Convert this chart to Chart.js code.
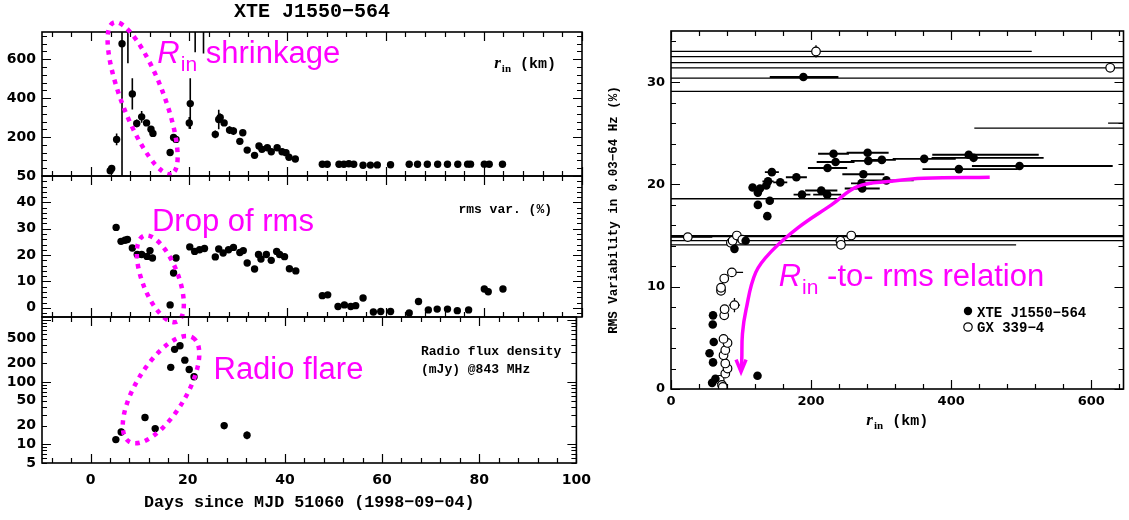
<!DOCTYPE html>
<html lang="en">
<head>
<meta charset="UTF-8">
<title>XTE J1550-564: inner radius, rms variability and radio flux</title>
<script src="https://cdn.jsdelivr.net/npm/chart.js@4.4.1/dist/chart.umd.min.js"></script>
<style>
  body { margin: 0; background: #fff; }
  #fig { position: relative; width: 1129px; height: 520px; overflow: hidden; }
  #fig canvas { position: absolute; top: 0; }
</style>
</head>
<body>
<div id="fig">
  <canvas id="relChart" width="569" height="520" style="left:560px"></canvas>
  <canvas id="rinChart" width="600" height="520" style="left:0"></canvas>
  <canvas id="rmsChart" width="600" height="520" style="left:0"></canvas>
  <canvas id="radioChart" width="600" height="520" style="left:0"></canvas>
</div>
<script>
// ---------- left: light curves vs days since MJD 51060 ----------
const rinDays = [3.9, 4.2, 5.2, 6.3, 7.5, 8.4, 9.3, 10.3, 11.3, 12.2, 12.6, 16.1, 16.8, 17.3, 20.0,
  20.2, 21.2, 22.9, 25.3, 26.0, 26.3, 27.1, 28.2, 29.0, 30.3, 30.9, 31.8, 33.3, 34.2, 34.8, 35.9,
  36.7, 37.9, 38.9, 39.7, 40.3, 41.6, 47.1, 48.1, 50.5, 51.5, 52.5, 53.5, 55.4, 56.9, 58.3, 61.0,
  64.8, 66.5, 68.5, 70.6, 72.6, 74.7, 76.7, 77.3, 80.1, 81.1, 83.8];
const rinKm = [27, 39, 188, 680, 900, 422, 270, 304, 273, 240, 219, 121, 198, 188, 273,
  372, 900, 900, 214, 290, 301, 273, 236, 231, 178, 222, 133, 106, 154, 137, 145,
  125, 145, 125, 120, 96, 87, 60, 60, 60, 60, 63, 60, 55, 56, 57, 58,
  60, 60, 60, 60, 60, 60, 61, 61, 61, 60, 60];
const rinErr = [8, 8, 30, 720, 320, 80, 20, 30, 15, 15, 12, 10, 15, 12, 30,
  130, 264, 270, 20, 50, 20, 15, 20, 20, 12, 15, 8, 8, 10, 8, 8,
  8, 8, 8, 8, 6, 6, 4, 4, 4, 4, 4, 4, 4, 4, 4, 4,
  4, 4, 4, 4, 4, 4, 4, 4, 4, 4, 4];

const rmsDays = [5.1, 6.1, 6.9, 7.4, 8.4, 9.4, 10.3, 11.4, 12.0, 12.5, 16.1, 16.8, 17.3, 20.1, 21.1,
  22.1, 23.1, 25.3, 26.0, 26.9, 28.0, 29.0, 30.3, 31.0, 31.8, 33.3, 34.1, 34.6, 35.7, 36.7, 37.8,
  38.4, 39.4, 40.4, 41.7, 47.1, 48.2, 50.3, 51.6, 52.9, 53.9, 55.4, 57.5, 59.0, 61.0, 64.8, 66.7,
  68.7, 70.5, 72.6, 74.6, 76.9, 80.1, 80.9, 83.9];
const rmsPct = [30.5, 25.2, 25.6, 25.9, 22.7, 20.2, 20.2, 19.5, 21.7, 18.9, 1.1, 13.2, 18.9, 23.1, 21.4,
  22.0, 22.5, 19.3, 22.3, 20.8, 22.0, 22.9, 21.0, 21.7, 17.0, 14.7, 20.2, 18.5, 20.2, 18.0, 21.4,
  20.2, 19.4, 14.8, 14.0, 4.6, 4.9, 0.5, 1.1, 0.5, 0.8, 3.7, -1.6, -1.4, -1.4, -2.0, 2.4,
  -0.8, -0.5, -0.5, -1.1, -0.8, 7.1, 6.1, 7.1];

const radioDays = [5.2, 6.3, 11.2, 13.3, 16.5, 17.3, 18.4, 19.4, 20.3, 21.3, 27.5, 32.2];
const radioMjy = [11.9, 15.8, 27, 17.9, 173, 337, 385, 226, 160, 122, 20, 14];
const radioErr = [0, 2, 0, 0, 0, 0, 0, 0, 0, 0, 2.5, 2];

// ---------- right: rms vs r_in ----------
const xteRin = [189, 116.5, 124, 127, 136, 138.5, 144, 141, 124, 137.5,
  156, 179, 187, 214.5, 223, 223.5, 232, 235, 280.7, 281.7,
  301, 361.5, 425, 432, 497.6, 411, 274.6, 272, 307.5, 273,
  90.6, 106.6, 60, 59.6, 61, 55, 60, 58.7, 63.4, 123.5];
const xteRms = [30.5, 19.7, 19.2, 19.6, 19.9, 20.3, 21.2, 18.4, 18.0, 16.9,
  20.2, 20.7, 19.0, 19.4, 19.0, 21.6, 23.0, 22.2, 23.1, 22.3,
  22.4, 22.5, 22.9, 22.6, 21.8, 21.5, 21.0, 20.1, 20.4, 19.6,
  13.7, 14.5, 7.2, 6.3, 4.6, 3.5, 2.6, 0.6, 1.0, 1.3];
const xteErrLo = [48, 0, 0, 0, 5, 8, 10, 0, 0, 0, 10, 15, 12, 23, 20, 28, 22, 27, 30, 25,
  20, 45, 52, 60, 68, 52, 30, 15, 39, 25, 0, 0, 0, 0, 0, 0, 0, 0, 0, 0];
const xteErrHi = [50, 0, 0, 0, 5, 8, 10, 0, 0, 0, 10, 15, 12, 23, 20, 28, 22, 27, 30, 25,
  20, 45, 100, 100, 133, 84, 30, 15, 39, 25, 0, 0, 0, 0, 0, 0, 0, 0, 0, 0];

const gxRin = [69.5, 72.8, 74, 77.5, 80.7, 77.5, 75, 77.5, 80.7, 75, 76, 76.5, 90.6, 71.4,
  71.4, 76, 86.9, 85.5, 88, 94, 101.8, 241.8, 242.7, 257.3, 24, 207, 627];
const gxRms = [0.9, 0.4, 0.2, 1.5, 2.0, 2.5, 3.3, 3.8, 4.5, 4.9, 7.2, 7.8, 8.2, 9.6,
  9.9, 10.8, 11.4, 14.3, 14.5, 15.0, 14.6, 14.5, 14.1, 15.0, 14.85, 33.0, 31.4];
const gxErrLo = [0, 0, 0, 0, 0, 0, 0, 0, 0, 0, 0, 0, 8, 0, 0, 0, 0, 0, 0, 0, 0, 0, 300, 400, 35, 300, 700];
const gxErrHi = [0, 0, 0, 0, 0, 0, 0, 0, 0, 0, 0, 0, 8, 0, 0, 0, 16, 0, 0, 0, 0, 0, 250, 500, 35, 308, 700];
const gxErrRms = [0, 0, 0, 0, 0, 0, 0, 0, 0, 0, 0, 0, 0.7, 0, 0, 0, 0, 0, 0, 0, 0, 0, 0, 0.4, 0, 0.6, 0.4];

// unconstrained fits: centre beyond the plotted range, only the error bar shows
const offRin = [900, 900, 900, 900, 900, 900, 900, 900, 900];
const offRms = [32.5, 31.9, 30.4, 29.1, 26.0, 25.5, 18.6, 14.9, 14.5];
const offErrLo = [1000, 1000, 1000, 1000, 276, 467, 1000, 1000, 1000];

// magenta trend arrow (r_in, rms)
const trendRin = [455, 361, 314, 267, 229, 182, 144, 121, 107, 102, 101, 100];
const trendRms = [20.7, 20.6, 20.3, 19.8, 18.0, 15.8, 13.5, 11.4, 7.7, 5.4, 2.8, 1.8];

const dayTicks = [0, 20, 40, 60, 80, 100];
const rinTicks = [200, 400, 600];
const rmsTicks = [0, 10, 20, 30, 40, 50];
const radioTicks = [5, 10, 20, 50, 100, 200, 500];
const relXTicks = [0, 200, 400, 600];
const relYTicks = [0, 10, 20, 30];

const MAG = '#ff00ff';
const MONO = '"Liberation Mono", monospace';
const SANS = '"DejaVu Sans", sans-serif';
const SERIF = '"Liberation Serif", serif';

function fixedTicks(values) {
  return scale => { scale.ticks = values.map(v => ({ value: v })); };
}

function stepValues(min, max, step) {
  const out = [];
  for (let v = Math.ceil(min / step) * step; v <= max + 1e-9; v += step) out.push(+v.toFixed(6));
  return out;
}

function logValues(min, max) {
  const out = [];
  for (let d = Math.pow(10, Math.floor(Math.log10(min))); d <= max; d *= 10) {
    for (let k = 1; k < 10; k++) if (k * d >= min && k * d <= max) out.push(k * d);
  }
  return out;
}

function drawErrorBars(chart) {
  const { ctx, chartArea: a, scales: { x, y } } = chart;
  ctx.save();
  ctx.beginPath();
  ctx.rect(a.left, a.top, a.width, a.height);
  ctx.clip();
  ctx.strokeStyle = '#000';
  chart.data.datasets.forEach(ds => {
    ctx.lineWidth = ds.errWidth || 1.4;
    ctx.beginPath();
    ds.data.forEach(p => {
      if (p.yl !== undefined && p.yh > p.yl) {
        const px = x.getPixelForValue(p.x);
        ctx.moveTo(px, y.getPixelForValue(p.yl));
        ctx.lineTo(px, y.getPixelForValue(p.yh));
      }
      if (p.xl !== undefined && p.xh > p.xl) {
        const py = y.getPixelForValue(p.y);
        ctx.moveTo(x.getPixelForValue(p.xl), py);
        ctx.lineTo(x.getPixelForValue(p.xh), py);
      }
    });
    ctx.stroke();
  });
  ctx.restore();
}

// frame, inward ticks on all four sides, error bars and per-panel notes
function framePlugin(cfg) {
  return {
    id: 'frame',
    beforeDatasetsDraw(chart) { drawErrorBars(chart); },
    afterDatasetsDraw(chart) {
      const { ctx, chartArea: a, scales: { x, y } } = chart;
      const near = (v, m) => Math.abs(v / m - Math.round(v / m)) < 1e-6;
      ctx.save();
      ctx.strokeStyle = '#000';
      ctx.lineWidth = 1.2;
      ctx.beginPath();
      stepValues(x.min, x.max, cfg.xMinor).forEach(v => {
        const p = Math.round(x.getPixelForValue(v)) + 0.5;
        const len = near(v, cfg.xMajor) ? 9 : 5;
        ctx.moveTo(p, a.bottom); ctx.lineTo(p, a.bottom - len);
        ctx.moveTo(p, a.top); ctx.lineTo(p, a.top + len);
      });
      const yv = cfg.yLog ? logValues(y.min, y.max) : stepValues(y.min, y.max, cfg.yMinor);
      yv.forEach(v => {
        const p = Math.round(y.getPixelForValue(v)) + 0.5;
        let major;
        if (cfg.yLog) { const l = Math.log10(v); major = Math.abs(l - Math.round(l)) < 1e-9; }
        else major = near(v, cfg.yMajor);
        const len = major ? 9 : 5;
        ctx.moveTo(a.left, p); ctx.lineTo(a.left + len, p);
        ctx.moveTo(a.right, p); ctx.lineTo(a.right - len, p);
      });
      ctx.stroke();
      ctx.lineWidth = 1.6;
      ctx.strokeRect(a.left, a.top, a.width, a.height);
      ctx.restore();
    },
    afterDraw(chart) { if (cfg.notes) cfg.notes(chart); }
  };
}

function dottedEllipse(ctx, cx, cy, rx, ry, deg) {
  ctx.save();
  ctx.strokeStyle = MAG;
  ctx.lineWidth = 4.5;
  ctx.setLineDash([4.5, 5.5]);
  ctx.beginPath();
  ctx.ellipse(cx, cy, rx, ry, deg * Math.PI / 180, 0, Math.PI * 2);
  ctx.stroke();
  ctx.restore();
}

function magentaText(ctx, x, y, text, withRin) {
  ctx.save();
  ctx.fillStyle = MAG;
  ctx.textAlign = 'left';
  ctx.textBaseline = 'alphabetic';
  let cx = x;
  if (withRin) {
    ctx.font = 'italic 31px "Liberation Sans", sans-serif';
    ctx.fillText('R', cx, y);
    cx += ctx.measureText('R').width + 1;
    ctx.font = '21px "Liberation Sans", sans-serif';
    ctx.fillText('in', cx, y + 8);
    cx += ctx.measureText('in').width;
  }
  ctx.font = '31px "Liberation Sans", sans-serif';
  ctx.fillText(text, cx, y);
  ctx.restore();
}

// italic r with subscript "in", then (km)
function rinLabel(ctx, x, y, size, align) {
  const fR = `italic bold ${size + 2}px ${SERIF}`;
  const fS = `bold ${Math.round(size * 0.7)}px ${SERIF}`;
  const fK = `bold ${size}px ${MONO}`;
  ctx.save();
  ctx.fillStyle = '#000';
  ctx.textBaseline = 'alphabetic';
  ctx.textAlign = 'left';
  ctx.font = fR; const wR = ctx.measureText('r').width;
  ctx.font = fS; const wS = ctx.measureText('in').width;
  ctx.font = fK; const wK = ctx.measureText(' (km)').width;
  const total = wR + 1 + wS + wK;
  let cx = align === 'center' ? x - total / 2 : align === 'right' ? x - total : x;
  ctx.font = fR; ctx.fillText('r', cx, y); cx += wR + 1;
  ctx.font = fS; ctx.fillText('in', cx, y + 4); cx += wS;
  ctx.font = fK; ctx.fillText(' (km)', cx, y);
  ctx.restore();
}

function monoText(ctx, text, x, y, size, align) {
  ctx.save();
  ctx.fillStyle = '#000';
  ctx.font = `bold ${size}px ${MONO}`;
  ctx.textAlign = align;
  ctx.textBaseline = 'alphabetic';
  ctx.fillText(text, x, y);
  ctx.restore();
}

function yAxis(extra, width, pad, size) {
  return Object.assign({
    afterFit: s => { s.width = width; },
    grid: { display: false, drawTicks: false },
    border: { display: false },
    ticks: { autoSkip: false, padding: pad, color: '#000', font: { family: SANS, size: size, weight: 'bold' }, callback: v => String(v) }
  }, extra);
}

function xAxis(extra, height, pad, size) {
  return Object.assign({
    type: 'linear',
    afterFit: s => { s.height = height; },
    grid: { display: false, drawTicks: false },
    border: { display: false },
    ticks: { autoSkip: false, maxRotation: 0, padding: pad, color: '#000', font: { family: SANS, size: size, weight: 'bold' }, callback: v => String(v) }
  }, extra);
}

const base = {
  responsive: false,
  animation: false,
  events: [],
  plugins: { legend: { display: false }, tooltip: { enabled: false } }
};

const dot = { backgroundColor: '#000', borderWidth: 0, pointRadius: 3.7 };

// ---- panel 1: r_in ----
new Chart(document.getElementById('rinChart'), {
  type: 'scatter',
  data: { datasets: [Object.assign({
    data: rinDays.map((d, i) => ({ x: d, y: rinKm[i], yl: rinKm[i] - rinErr[i], yh: rinKm[i] + rinErr[i] })),
    errWidth: 1.6
  }, dot)] },
  options: Object.assign({}, base, {
    layout: { padding: { left: 0, right: 18, top: 32, bottom: 344 } },
    scales: {
      x: { type: 'linear', min: -10, max: 100, display: false },
      y: yAxis({ type: 'linear', min: 0, max: 740, afterBuildTicks: fixedTicks(rinTicks) }, 42, 6, 14)
    }
  }),
  plugins: [framePlugin({
    xMajor: 20, xMinor: 4, yMajor: 200, yMinor: 40,
    notes(chart) {
      const { ctx, chartArea: a, scales: { x, y } } = chart;
      monoText(ctx, 'XTE J1550\u2212564', (a.left + a.right) / 2, 17, 20, 'center');
      rinLabel(ctx, a.right - 26, a.top + 36, 15, 'right');
      dottedEllipse(ctx, x.getPixelForValue(10.5), y.getPixelForValue(400), 81, 21, 69);
      magentaText(ctx, x.getPixelForValue(13.5), y.getPixelForValue(580), ' shrinkage', true);
    }
  })]
});

// ---- panel 2: rms variability ----
new Chart(document.getElementById('rmsChart'), {
  type: 'scatter',
  data: { datasets: [Object.assign({
    data: rmsDays.map((d, i) => ({ x: d, y: rmsPct[i] }))
  }, dot)] },
  options: Object.assign({}, base, {
    layout: { padding: { left: 0, right: 18, top: 176, bottom: 203 } },
    scales: {
      x: { type: 'linear', min: -10, max: 100, display: false },
      y: yAxis({ type: 'linear', min: -3.5, max: 50, afterBuildTicks: fixedTicks(rmsTicks) }, 42, 6, 14)
    }
  }),
  plugins: [framePlugin({
    xMajor: 20, xMinor: 4, yMajor: 10, yMinor: 2,
    notes(chart) {
      const { ctx, chartArea: a, scales: { x, y } } = chart;
      monoText(ctx, 'rms var. (%)', a.right - 30, a.top + 37, 13, 'right');
      dottedEllipse(ctx, x.getPixelForValue(14.1), y.getPixelForValue(11.0), 46, 18, 69);
      magentaText(ctx, x.getPixelForValue(12.4), y.getPixelForValue(29.3), 'Drop of rms', false);
    }
  })]
});

// ---- panel 3: radio flux ----
new Chart(document.getElementById('radioChart'), {
  type: 'scatter',
  data: { datasets: [Object.assign({
    data: radioDays.map((d, i) => ({ x: d, y: radioMjy[i], yl: radioMjy[i] - radioErr[i], yh: radioMjy[i] + radioErr[i] })),
    errWidth: 1.6
  }, dot)] },
  options: Object.assign({}, base, {
    layout: { padding: { left: 0, right: 18, top: 317, bottom: 27 } },
    scales: {
      x: xAxis({ min: -10, max: 100, afterBuildTicks: fixedTicks(dayTicks) }, 30, 9, 14),
      y: yAxis({ type: 'logarithmic', min: 5, max: 1117, afterBuildTicks: fixedTicks(radioTicks) }, 42, 6, 14)
    }
  }),
  plugins: [framePlugin({
    xMajor: 20, xMinor: 4, yLog: true,
    notes(chart) {
      const { ctx, chartArea: a, scales: { x, y } } = chart;
      monoText(ctx, 'Radio flux density', a.left + 379, a.top + 38, 13, 'left');
      monoText(ctx, '(mJy) @843 MHz', a.left + 379, a.top + 56, 13, 'left');
      monoText(ctx, 'Days since MJD 51060 (1998\u221209\u221204)', (a.left + a.right) / 2, 507, 16.7, 'center');
      dottedEllipse(ctx, x.getPixelForValue(14.5), y.getPixelForValue(75.7), 61, 25, -58.6);
      magentaText(ctx, x.getPixelForValue(25.3), y.getPixelForValue(112), 'Radio flare', false);
    }
  })]
});

// ---- right: rms variability vs r_in ----
new Chart(document.getElementById('relChart'), {
  type: 'scatter',
  data: { datasets: [
    {
      data: trendRin.map((r, i) => ({ x: r, y: trendRms[i] })),
      showLine: true, borderColor: MAG, borderWidth: 3.5, tension: 0.4, pointRadius: 0, fill: false
    },
    {
      label: 'XTE J1550-564',
      data: xteRin.map((r, i) => ({ x: r, y: xteRms[i], xl: r - xteErrLo[i], xh: r + xteErrHi[i] })),
      backgroundColor: '#000', borderWidth: 0, pointRadius: 4.3, errWidth: 1.9
    },
    {
      label: 'GX 339-4',
      data: gxRin.map((r, i) => ({ x: r, y: gxRms[i], xl: r - gxErrLo[i], xh: r + gxErrHi[i],
        yl: gxRms[i] - gxErrRms[i], yh: gxRms[i] + gxErrRms[i] })),
      backgroundColor: '#fff', borderColor: '#000', borderWidth: 1.2, pointRadius: 4.3, errWidth: 1.3
    },
    {
      data: offRin.map((r, i) => ({ x: r, y: offRms[i], xl: r - offErrLo[i], xh: r + 100 })),
      pointRadius: 0, errWidth: 1.3
    }
  ] },
  options: Object.assign({}, base, {
    layout: { padding: { left: 0, right: 0, top: 31, bottom: 101 } },
    scales: {
      x: xAxis({ min: 0, max: 646, afterBuildTicks: fixedTicks(relXTicks) }, 30, 5, 13),
      y: yAxis({ type: 'linear', min: 0, max: 35, afterBuildTicks: fixedTicks(relYTicks) }, 111, 6, 13)
    }
  }),
  plugins: [framePlugin({
    xMajor: 200, xMinor: 40, yMajor: 10, yMinor: 2,
    notes(chart) {
      const { ctx, chartArea: a, scales: { x, y } } = chart;
      // arrow head at the end of the trend curve
      const pts = chart.getDatasetMeta(0).data;
      const tip = pts[pts.length - 1];
      ctx.save();
      ctx.strokeStyle = MAG;
      ctx.lineWidth = 3.5;
      ctx.beginPath();
      ctx.moveTo(tip.x - 5, tip.y - 11);
      ctx.lineTo(tip.x, tip.y + 1);
      ctx.lineTo(tip.x + 5, tip.y - 11);
      ctx.stroke();
      ctx.restore();
      magentaText(ctx, x.getPixelForValue(153.8), y.getPixelForValue(10.07), ' -to- rms relation', true);

      // legend
      const lx = a.left + 297, ly = a.top + 280;
      ctx.save();
      ctx.fillStyle = '#000';
      ctx.beginPath(); ctx.arc(lx, ly, 4.2, 0, Math.PI * 2); ctx.fill();
      ctx.fillStyle = '#fff'; ctx.strokeStyle = '#000'; ctx.lineWidth = 1.2;
      ctx.beginPath(); ctx.arc(lx, ly + 16, 4.2, 0, Math.PI * 2); ctx.fill(); ctx.stroke();
      ctx.restore();
      monoText(ctx, 'XTE J1550\u2212564', lx + 9, ly + 6, 14, 'left');
      monoText(ctx, 'GX 339\u22124', lx + 9, ly + 21, 14, 'left');

      // axis titles
      rinLabel(ctx, (a.left + a.right) / 2, a.bottom + 36, 15, 'center');
      ctx.save();
      ctx.translate(a.left - 59, (a.top + a.bottom) / 2);
      ctx.rotate(-Math.PI / 2);
      monoText(ctx, 'RMS Variability in 0.03\u221264 Hz (%)', 0, 5, 12.5, 'center');
      ctx.restore();
    }
  })]
});
</script>
</body>
</html>
